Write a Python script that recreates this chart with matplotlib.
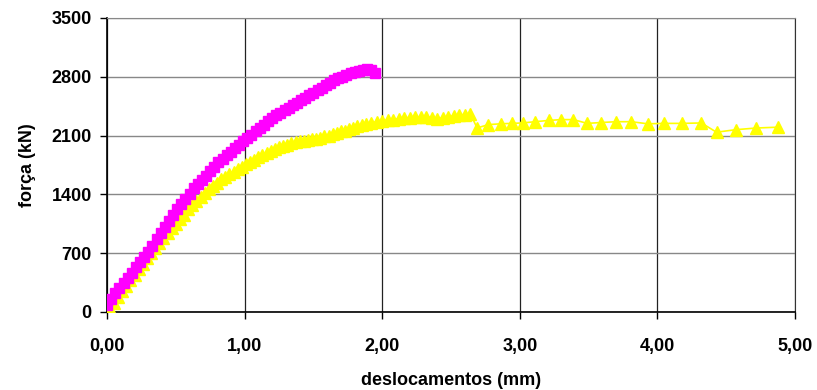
import matplotlib.pyplot as plt

plt.rcParams['font.family'] = ['Liberation Sans', 'DejaVu Sans']

# serie 1 (magenta, quadrados)
x_mag = [0.00, 0.03, 0.06, 0.09, 0.12, 0.15, 0.18, 0.21, 0.24, 0.27,
         0.30, 0.33, 0.36, 0.39, 0.42, 0.45, 0.48, 0.51, 0.54, 0.57,
         0.60, 0.63, 0.66, 0.69, 0.72, 0.75, 0.78, 0.81, 0.84, 0.87,
         0.90, 0.93, 0.96, 0.99, 1.02, 1.05, 1.08, 1.11, 1.14, 1.17,
         1.20, 1.23, 1.26, 1.29, 1.32, 1.35, 1.38, 1.41, 1.44, 1.47,
         1.50, 1.53, 1.56, 1.59, 1.62, 1.65, 1.68, 1.71, 1.74, 1.77,
         1.80, 1.83, 1.86, 1.89, 1.92, 1.95]
y_mag = [80, 160, 230, 280, 340, 400, 460, 530, 590, 650,
         720, 790, 870, 940, 1010, 1080, 1150, 1220, 1290, 1350,
         1410, 1470, 1520, 1570, 1620, 1680, 1730, 1780, 1820, 1870,
         1910, 1950, 1990, 2030, 2070, 2110, 2150, 2190, 2230, 2270,
         2310, 2340, 2370, 2400, 2430, 2460, 2490, 2520, 2550, 2580,
         2610, 2640, 2670, 2700, 2730, 2760, 2780, 2800, 2820, 2840,
         2860, 2870, 2880, 2890, 2880, 2850]

# serie 2 (amarelo, triangulos)
x_yel = [0.02, 0.05, 0.08, 0.11, 0.14, 0.17, 0.20, 0.23, 0.26, 0.29,
         0.32, 0.35, 0.38, 0.41, 0.44, 0.47, 0.50, 0.53, 0.56, 0.59,
         0.62, 0.65, 0.68, 0.71, 0.74, 0.77, 0.80, 0.83, 0.86, 0.89,
         0.92, 0.95, 0.98, 1.01, 1.04, 1.07, 1.10, 1.13, 1.16, 1.19,
         1.22, 1.25, 1.28, 1.31, 1.34, 1.37, 1.40, 1.43, 1.46, 1.49,
         1.52, 1.55, 1.58, 1.61, 1.64, 1.67, 1.70, 1.73, 1.76, 1.79,
         1.82, 1.85, 1.88, 1.92, 1.96, 2.00, 2.04, 2.08, 2.12, 2.16,
         2.20, 2.24, 2.28, 2.32, 2.36, 2.40, 2.44, 2.48, 2.52, 2.56,
         2.60, 2.64, 2.69, 2.77, 2.86, 2.94, 3.02, 3.11, 3.21, 3.30,
         3.39, 3.49, 3.59, 3.70, 3.81, 3.93, 4.05, 4.18, 4.32, 4.43,
         4.57, 4.72, 4.88]
y_yel = [40, 110, 180, 250, 310, 380, 440, 510, 570, 640,
         700, 760, 820, 880, 940, 1000, 1050, 1110, 1160, 1220,
         1270, 1320, 1370, 1420, 1460, 1500, 1540, 1580, 1610, 1640,
         1670, 1700, 1730, 1760, 1790, 1810, 1840, 1870, 1890, 1920,
         1940, 1960, 1980, 1990, 2010, 2020, 2030, 2040, 2050, 2055,
         2060, 2070, 2090, 2100, 2120, 2130, 2150, 2160, 2180, 2190,
         2210, 2220, 2240, 2250, 2265, 2275, 2285, 2290, 2300, 2310,
         2315, 2320, 2320, 2325, 2315, 2300, 2310, 2325, 2335, 2345,
         2350, 2360, 2190, 2230, 2240, 2245, 2250, 2265, 2280, 2290,
         2290, 2245, 2255, 2265, 2265, 2240, 2245, 2245, 2250, 2140,
         2170, 2190, 2200]

x_ticks = [0, 1, 2, 3, 4, 5]
x_labels = ['0,00', '1,00', '2,00', '3,00', '4,00', '5,00']
y_ticks = [0, 700, 1400, 2100, 2800, 3500]

fig = plt.figure(figsize=(8.17, 3.90), dpi=100)
ax = fig.add_axes([0.131, 0.2, 0.842, 0.754])

ax.plot(x_yel, y_yel, color='#ffff00', marker='^', markersize=8, linewidth=1.2, zorder=3)
ax.plot(x_mag, y_mag, color='#ff00ff', marker='s', markersize=7, linewidth=1.2, zorder=4)

ax.set_xlim(0, 5)
ax.set_ylim(0, 3500)
ax.set_xticks(x_ticks)
ax.set_xticklabels(x_labels)
ax.set_yticks(y_ticks)

ax.xaxis.grid(True, color='#222222', linewidth=0.9)
ax.yaxis.grid(True, color='#888888', linewidth=1.0)
ax.set_axisbelow(True)

for s in ['left', 'bottom']:
    ax.spines[s].set_color('black')
    ax.spines[s].set_linewidth(1.2)
ax.spines['top'].set_color('#888888')
ax.spines['right'].set_color('#333333')

ax.tick_params(axis='both', direction='out', length=5, width=1, labelsize=13)
ax.tick_params(axis='x', pad=14)
ax.tick_params(axis='y', pad=6)
for lbl in ax.get_xticklabels() + ax.get_yticklabels():
    lbl.set_fontweight('bold')

ax.set_xlabel('deslocamentos (mm)', fontsize=13, fontweight='bold', labelpad=12)
ax.set_ylabel('força (kN)', fontsize=13, fontweight='bold', labelpad=11)

fig.savefig('out.png', dpi=100)
